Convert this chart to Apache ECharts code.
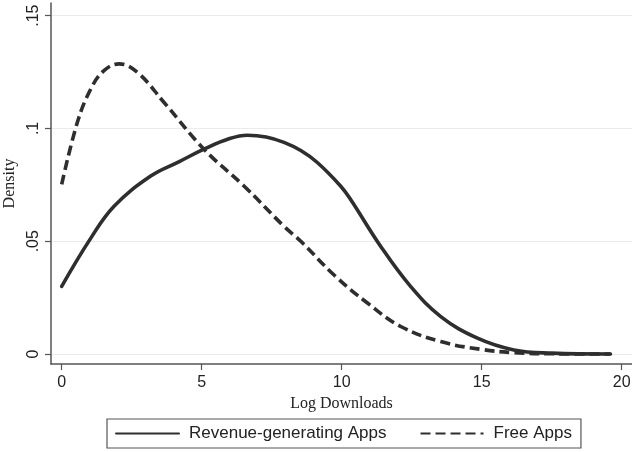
<!DOCTYPE html>
<html>
<head>
<meta charset="utf-8">
<script src="https://cdn.jsdelivr.net/npm/echarts@6/dist/echarts.min.js"></script>
<style>html,body{margin:0;padding:0;background:#fff;}#c{width:632px;height:452px;}</style>
</head>
<body>
<div id="c"></div>
<script>
// Data
var seriesNames = ['Revenue-generating Apps', 'Free Apps'];
var revX = [0, 1.0, 1.87, 3.18, 4.2, 5.08, 6.0, 6.63, 7.3, 7.94, 8.54, 9.13, 9.96, 10.32, 11.39, 12.46, 13.54, 14.85, 16.15, 17.5, 19.6];
var revY = [0.030, 0.0506, 0.0655, 0.0789, 0.0853, 0.0908, 0.0955, 0.0970, 0.0962, 0.0938, 0.0902, 0.0849, 0.0745, 0.0685, 0.0478, 0.0300, 0.0166, 0.0070, 0.0018, 0.0004, 0.0000];
var freeX = [0, 0.56, 1.04, 1.51, 2.05, 2.70, 3.65, 5.08, 6.51, 7.94, 8.54, 9.73, 10.92, 12.11, 13.54, 14.96, 16.14, 17.5, 19.6];
var freeY = [0.0752, 0.1027, 0.1175, 0.1256, 0.1286, 0.1249, 0.1116, 0.0908, 0.0745, 0.0566, 0.0500, 0.0350, 0.0226, 0.0122, 0.0055, 0.0021, 0.0006, 0.0001, 0.0000];
var xTicks = [0, 5, 10, 15, 20];
var yTicks = [0, 0.05, 0.1, 0.15];
var yTickLabels = ['0', '.05', '.1', '.15'];

function pairs(xs, ys) { return xs.map(function (x, i) { return [x, ys[i]]; }); }

var chart = echarts.init(document.getElementById('c'), null, { renderer: 'canvas' });
var lineColor = '#2e2e2e';
chart.setOption({
  animation: false,
  backgroundColor: '#ffffff',
  grid: { left: 51, right: 0, top: 3, bottom: 88, containLabel: false, outerBoundsMode: 'none' },
  xAxis: {
    type: 'value',
    min: -0.382,
    max: 20.37,
    name: 'Log Downloads',
    nameLocation: 'middle',
    nameGap: 29,
    nameTextStyle: { fontFamily: 'Liberation Serif', fontSize: 16, color: '#222' },
    axisLine: { show: true, onZero: false, lineStyle: { color: '#555', width: 1.5 } },
    axisTick: { show: true, length: 6, customValues: xTicks, lineStyle: { color: '#555', width: 1.2 } },
    axisLabel: { customValues: xTicks, margin: 11, fontFamily: 'Liberation Sans', fontSize: 16, color: '#222' },
    splitLine: { show: false }
  },
  yAxis: {
    type: 'value',
    min: -0.00443,
    max: 0.1556,
    name: 'Density',
    nameLocation: 'middle',
    nameGap: 22,
    nameTextStyle: { fontFamily: 'Liberation Serif', fontSize: 16, color: '#222' },
    axisLine: { show: true, onZero: false, lineStyle: { color: '#555', width: 1.5 } },
    axisTick: { show: true, length: 6, customValues: yTicks, lineStyle: { color: '#555', width: 1.2 } },
    axisLabel: {
      customValues: yTicks, rotate: 90, margin: 9,
      fontFamily: 'Liberation Sans', fontSize: 16, color: '#222',
      formatter: function (v) {
        for (var i = 0; i < yTicks.length; i++) { if (Math.abs(v - yTicks[i]) < 1e-9) return yTickLabels[i]; }
        return '';
      }
    },
    splitLine: { show: true, lineStyle: { color: '#ebebeb', width: 1.2 } }
  },
  legend: {
    left: 107,
    top: 419,
    orient: 'horizontal',
    padding: [6, 9, 6, 8],
    borderColor: '#555',
    borderWidth: 1.2,
    itemWidth: 63,
    itemHeight: 12,
    itemGap: 33,
    itemStyle: { opacity: 0, borderWidth: 0 },
    textStyle: { fontFamily: 'Liberation Sans', fontSize: 17, color: '#222', padding: [0, 0, 0, 5] },
    data: seriesNames
  },
  series: [
    {
      name: seriesNames[0], type: 'line', data: pairs(revX, revY),
      smooth: 0.4, symbol: 'none', showSymbol: false,
      lineStyle: { color: lineColor, width: 3.6, type: 'solid', cap: 'round' },
      itemStyle: { color: lineColor }
    },
    {
      name: seriesNames[1], type: 'line', data: pairs(freeX, freeY),
      smooth: 0.4, symbol: 'none', showSymbol: false,
      lineStyle: { color: lineColor, width: 3.6, type: [10, 5] },
      itemStyle: { color: lineColor }
    }
  ]
});
</script>
</body>
</html>
